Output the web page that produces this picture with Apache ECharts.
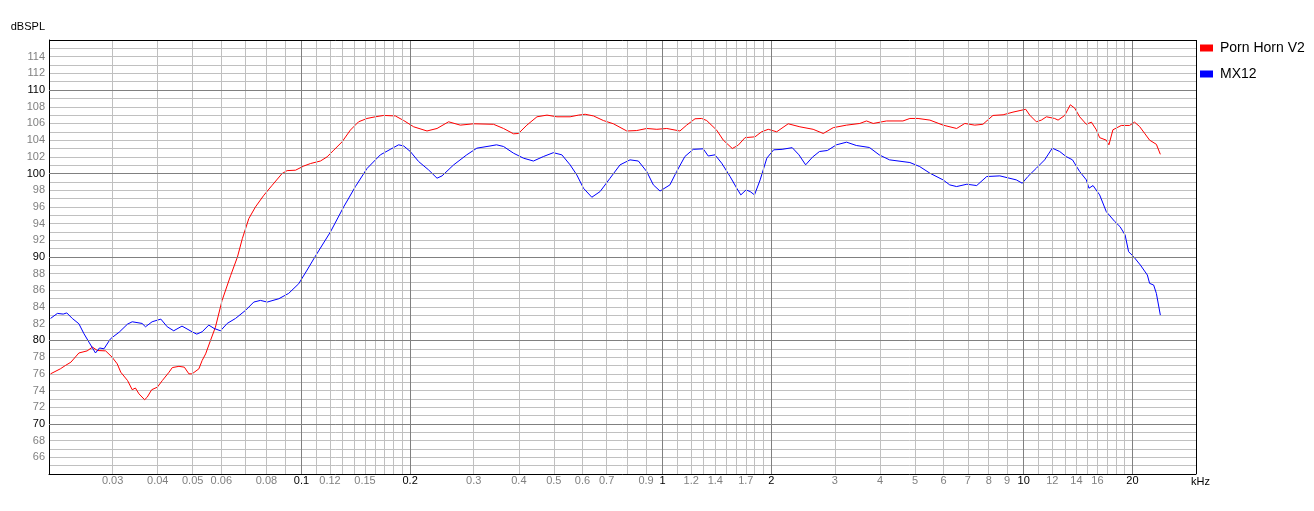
<!DOCTYPE html>
<html>
<head>
<meta charset="utf-8">
<script src="https://cdn.jsdelivr.net/npm/echarts@6/dist/echarts.min.js"></script>
<style>
html,body{margin:0;padding:0;background:#fff;}
#chart{width:1314px;height:511px;}
</style>
</head>
<body>
<div id="chart"></div>
<script>
// ---- Data (frequency in kHz, level in dB SPL) ----
const seriesNames = ['Porn Horn V2', 'MX12'];

const redFreq = [0.0202,0.0215,0.0222,0.0230,0.0242,0.0255,0.0264,0.0272,0.0287,0.0299,0.0309,0.0316,0.0330,0.0340,0.0347,0.0355,0.0368,0.0374,0.0385,0.0399,0.0412,0.0430,0.0439,0.0458,0.0474,0.0488,0.0498,0.0520,0.0531,0.0543,0.0560,0.0578,0.0603,0.0637,0.0665,0.0686,0.0715,0.0746,0.0787,0.0830,0.0884,0.0913,0.0963,0.1015,0.1060,0.1129,0.1178,0.1229,0.1296,0.1366,0.1440,0.1519,0.1602,0.1690,0.1820,0.1920,0.2046,0.2227,0.2374,0.2556,0.2754,0.2996,0.3404,0.3628,0.3866,0.3990,0.4210,0.4490,0.4786,0.5100,0.5546,0.5850,0.6105,0.6440,0.6857,0.7310,0.7960,0.8480,0.9040,0.9640,1.027,1.117,1.166,1.230,1.283,1.325,1.412,1.473,1.560,1.620,1.692,1.803,1.880,1.962,2.070,2.228,2.400,2.612,2.786,2.970,3.233,3.517,3.670,3.830,4.170,4.630,4.840,5.100,5.500,5.980,6.520,6.870,7.320,7.710,8.220,8.770,9.340,10.13,10.39,10.84,11.19,11.56,12.18,12.45,12.99,13.46,13.84,14.29,14.91,15.40,15.89,16.23,16.93,17.22,17.66,18.63,19.64,20.27,20.93,21.60,22.32,23.30,23.90];
const redDb = [76.0,76.6,77.0,77.4,78.5,78.75,79.2,78.8,78.75,78.0,77.2,76.2,75.2,74.1,74.3,73.6,72.9,73.2,74.1,74.4,75.2,76.2,76.75,76.9,76.8,76.0,76.0,76.6,77.6,78.4,80.0,81.6,84.8,87.8,90.0,92.2,94.6,96.0,97.4,98.6,100.0,100.35,100.4,100.9,101.2,101.5,102.0,102.8,103.8,105.2,106.2,106.6,106.8,106.96,106.9,106.35,105.6,105.1,105.4,106.2,105.8,105.96,105.9,105.4,104.76,104.8,105.8,106.8,107.0,106.8,106.8,107.0,107.1,106.9,106.35,105.96,105.1,105.15,105.4,105.3,105.4,105.1,105.8,106.56,106.6,106.35,105.2,104.0,103.0,103.4,104.3,104.4,105.0,105.3,105.0,105.96,105.6,105.3,104.8,105.5,105.8,106.0,106.3,106.0,106.3,106.3,106.6,106.6,106.4,105.8,105.4,106.0,105.8,105.9,106.96,107.04,107.36,107.7,107.0,106.2,106.4,106.8,106.6,106.4,106.96,108.24,107.84,106.8,105.9,106.16,105.24,104.3,104.0,103.44,105.24,105.76,105.76,106.16,105.64,104.84,104.0,103.5,102.3];

const blueFreq = [0.0202,0.0211,0.0219,0.0224,0.0232,0.0242,0.0250,0.0258,0.0269,0.0276,0.0284,0.0296,0.0313,0.0330,0.0340,0.0362,0.0370,0.0386,0.0408,0.0425,0.0443,0.0467,0.0498,0.0513,0.0531,0.0554,0.0573,0.0597,0.0623,0.0657,0.0700,0.0738,0.0770,0.0804,0.0866,0.0922,0.0983,0.1037,0.1088,0.1203,0.1309,0.1411,0.1519,0.1654,0.1763,0.1858,0.1920,0.2002,0.2111,0.2249,0.2374,0.2451,0.2640,0.2869,0.3060,0.3328,0.3470,0.3628,0.3866,0.4120,0.4390,0.4679,0.4985,0.5262,0.5546,0.5787,0.6040,0.6370,0.6714,0.7155,0.7625,0.8126,0.8570,0.9039,0.9430,0.9840,1.048,1.094,1.153,1.216,1.296,1.338,1.397,1.458,1.538,1.605,1.647,1.703,1.748,1.797,1.863,1.944,2.030,2.143,2.286,2.386,2.490,2.600,2.720,2.860,3.030,3.233,3.440,3.740,3.980,4.250,4.840,5.150,5.500,5.980,6.240,6.520,6.960,7.410,7.900,8.590,9.540,9.910,10.27,10.84,11.43,12.00,12.58,13.10,13.65,14.29,14.91,15.16,15.56,16.23,16.93,17.88,18.48,19.09,19.52,20.15,21.04,22.00,22.32,22.90,23.30,23.90];
const blueDb = [82.64,83.24,83.16,83.3,82.64,82.0,80.8,79.8,78.5,79.1,79.0,80.2,81.0,81.96,82.24,82.04,81.64,82.24,82.56,81.64,81.16,81.72,81.04,80.76,81.04,81.84,81.44,81.16,82.04,82.64,83.6,84.6,84.8,84.6,85.0,85.64,86.8,88.44,89.96,93.0,96.0,98.44,100.6,102.24,102.9,103.44,103.3,102.64,101.44,100.44,99.44,99.72,101.04,102.24,103.04,103.3,103.44,103.24,102.44,101.84,101.5,102.04,102.5,102.24,101.04,99.84,98.24,97.16,97.84,99.44,101.04,101.64,101.5,100.24,98.64,97.9,98.64,100.24,102.04,102.9,102.96,102.1,102.24,101.24,99.64,98.24,97.44,98.04,97.84,97.44,99.24,101.84,102.84,102.9,103.1,102.24,101.04,101.96,102.64,102.76,103.44,103.76,103.36,103.12,102.24,101.64,101.32,100.84,100.04,99.24,98.64,98.44,98.72,98.56,99.64,99.72,99.24,98.84,99.64,100.64,101.64,103.04,102.64,102.04,101.64,100.24,99.24,98.24,98.56,97.44,95.44,94.24,93.64,92.64,90.64,90.04,89.04,87.84,86.84,86.64,85.64,83.04];

// ---- Axis definitions ----
const xMin = 0.02, xMax = 30;
const yMin = 64, yMax = 116;
const xMajorGrid = [0.1, 0.2, 1, 2, 10, 20];
const xMinorGrid = [0.03,0.04,0.05,0.06,0.07,0.08,0.09,0.11,0.12,0.13,0.14,0.15,0.16,0.17,0.18,0.19,0.3,0.4,0.5,0.6,0.7,0.8,0.9,1.1,1.2,1.3,1.4,1.5,1.6,1.7,1.8,1.9,3,4,5,6,7,8,9,11,12,13,14,15,16,17,18,19];
const xTickLabels = ['0.03','0.04','0.05','0.06','0.08','0.1','0.12','0.15','0.2','0.3','0.4','0.5','0.6','0.7','0.9','1','1.2','1.4','1.7','2','3','4','5','6','7','8','9','10','12','14','16','20'];
const yMajorGrid = [70, 80, 90, 100, 110];

const FONT = '"Liberation Sans", Arial, sans-serif';
const GRAY_TXT = '#808080';
const MINOR_LINE = '#c0c0c0';
const MAJOR_LINE = '#808080';

function isMajorX(v){ return xMajorGrid.some(m => Math.abs(m - v) < 1e-9); }

const vLines = [];
xMinorGrid.concat(xMajorGrid).forEach(v => {
  const major = isMajorX(v);
  const lbl = xTickLabels.find(t => Math.abs(parseFloat(t) - v) < 1e-9);
  vLines.push({
    xAxis: v,
    lineStyle: {color: major ? MAJOR_LINE : MINOR_LINE, width: 1, type: 'solid'},
    label: lbl ? {
      show: true, position: 'start', formatter: lbl, distance: 1,
      color: major ? '#000' : GRAY_TXT, fontSize: 11, fontFamily: FONT
    } : {show: false}
  });
});
const hLines = yMajorGrid.map(v => ({
  yAxis: v, lineStyle: {color: MAJOR_LINE, width: 1, type: 'solid'}, label: {show: false}
}));
// plot frame (top and right edges)
const frameLines = [
  {yAxis: yMax, lineStyle: {color: '#000', width: 1, type: 'solid'}, label: {show: false}},
  {xAxis: xMax, lineStyle: {color: '#000', width: 1, type: 'solid'}, label: {show: false}}
];

const chart = echarts.init(document.getElementById('chart'), null, {renderer: 'canvas'});
chart.setOption({
  animation: false,
  backgroundColor: '#fff',
  textStyle: {fontFamily: FONT},
  grid: {left: 49, top: 40, right: 118, bottom: 37, show: false},
  legend: {
    data: seriesNames,
    orient: 'vertical',
    left: 1200, top: 40, padding: 0,
    icon: 'rect', itemWidth: 13, itemHeight: 7, itemGap: 10,
    textStyle: {fontSize: 14, color: '#000', fontFamily: FONT, lineHeight: 16, padding: [0,0,0,2]},
    selectedMode: false
  },
  xAxis: {
    type: 'log', logBase: 10, min: xMin, max: xMax,
    name: 'kHz', nameLocation: 'end', nameGap: -5,
    nameTextStyle: {fontSize: 11, color: '#000', align: 'left', verticalAlign: 'top', padding: [2,0,0,0], fontFamily: FONT},
    axisLine: {show: true, onZero: false, lineStyle: {color: '#000', width: 1}},
    axisTick: {show: false}, axisLabel: {show: false},
    splitLine: {show: false}, minorSplitLine: {show: false}
  },
  yAxis: {
    type: 'value', min: yMin, max: yMax, interval: 1,
    name: 'dBSPL', nameLocation: 'end', nameGap: 8,
    nameTextStyle: {fontSize: 11, color: '#000', align: 'right', padding: [0,4,0,0], fontFamily: FONT},
    axisLine: {show: true, lineStyle: {color: '#000', width: 1}},
    axisTick: {show: false},
    axisLabel: {
      margin: 4, fontSize: 11, fontFamily: FONT,
      formatter: v => (v % 2 === 0 && v >= 66 && v <= 114) ? String(v) : '',
      color: v => (Number(v) % 10 === 0) ? '#000' : GRAY_TXT
    },
    splitLine: {show: true, lineStyle: {color: MINOR_LINE, width: 1}}
  },
  series: [
    {
      name: '__grid', type: 'line', data: [], silent: true, z: 1,
      markLine: {silent: true, symbol: ['none','none'], animation: false, data: vLines.concat(hLines).concat(frameLines)}
    },
    {
      name: seriesNames[0], type: 'line', z: 3,
      data: redFreq.map((f, i) => [f, redDb[i]]),
      showSymbol: false, symbol: 'none', color: '#ff0000',
      lineStyle: {color: '#ff0000', width: 1}
    },
    {
      name: seriesNames[1], type: 'line', z: 3,
      data: blueFreq.map((f, i) => [f, blueDb[i]]),
      showSymbol: false, symbol: 'none', color: '#0000ff',
      lineStyle: {color: '#0000ff', width: 1}
    }
  ]
});
</script>
</body>
</html>
